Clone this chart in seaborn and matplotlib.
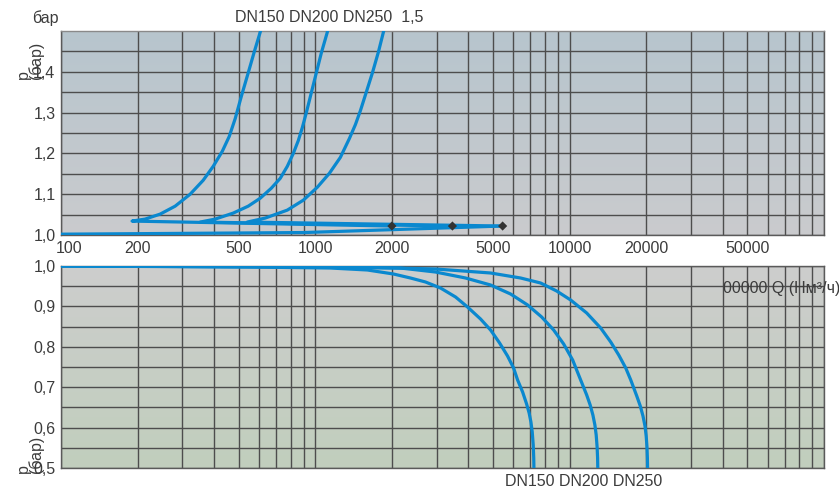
import numpy as np
import pandas as pd
import matplotlib
matplotlib.use("Agg")
import matplotlib.pyplot as plt
import matplotlib.transforms as mtrans
from matplotlib.colors import to_rgb
from matplotlib.ticker import NullFormatter
import seaborn as sns

# ---------------- data ----------------
x_tick_values = [100, 200, 500, 1000, 2000, 5000, 10000, 20000, 50000]
x_tick_labels = ["100", "200", "500", "1000", "2000", "5000", "10000", "20000", "50000"]
top_y_ticks = [1.0, 1.1, 1.2, 1.3, 1.4]
top_y_labels = ["1,0", "1,1", "1,2", "1,3", "1,4"]
bot_y_ticks = [0.5, 0.6, 0.7, 0.8, 0.9, 1.0]
bot_y_labels = ["0,5", "0,6", "0,7", "0,8", "0,9", "1,0"]

# upper panel (overpressure); first point = diamond end of the flat branch
top_dn150_q = [2000, 190.3, 214.1, 245.4, 281.1, 322.0, 362.3, 396.7, 430.5, 458.6,
               484.2, 511.3, 544.7, 575.2, 607.4, 624.2]
top_dn150_p = [1.022, 1.0341, 1.039, 1.0512, 1.0707, 1.1, 1.1341, 1.1683, 1.2049, 1.2415,
               1.2854, 1.339, 1.3976, 1.4488, 1.4976, 1.5244]
top_dn200_q = [3460, 352.5, 404.0, 475.5, 544.7, 607.4, 671.0, 728.0, 775.9, 819.3,
               857.4, 889.0, 921.8, 964.4, 1009.1, 1055.9, 1115.1, 1135.6]
top_dn200_p = [1.022, 1.0317, 1.039, 1.0537, 1.0707, 1.0902, 1.1146, 1.139, 1.1683, 1.2,
               1.2317, 1.2634, 1.3, 1.3488, 1.3976, 1.4463, 1.4976, 1.5195]
top_dn250_q = [5450, 539.8, 635.5, 775.9, 897.2, 1018.3, 1135.6, 1254.2, 1361.5, 1437.5,
               1504.2, 1588.2, 1676.9, 1770.4, 1852.7, 1903.7]
top_dn250_p = [1.022, 1.0317, 1.0415, 1.061, 1.0854, 1.1171, 1.1512, 1.1902, 1.2366, 1.2707,
               1.3049, 1.3512, 1.3976, 1.4488, 1.4976, 1.5244]
top_base_q = [100, 900, 5450]
top_base_p = [1.002, 1.006, 1.022]
diamond_q = [2000, 3460, 5450]
diamond_p = [1.022, 1.022, 1.022]

# lower panel (vacuum)
bot_dn150_q = [100, 554.8, 1145.6, 1602.5, 2028.2, 2365.9, 2710.8, 3106.1, 3558.6, 3966.3,
               4462.7, 4886.4, 5302.2, 5698.5, 6019.0, 6241.5, 6531.8, 6772.3, 6928.3,
               7041.2, 7125.9, 7190.2, 7223.4, 7235.0]
bot_dn150_p = [1.0, 0.9975, 0.995, 0.9901, 0.9802, 0.9703, 0.9604, 0.9455, 0.9233, 0.8985,
               0.8688, 0.8416, 0.8094, 0.7772, 0.7475, 0.7178, 0.6881, 0.6584, 0.6361,
               0.6139, 0.5891, 0.5569, 0.5248, 0.5]
bot_dn200_q = [100, 873.1, 2161.3, 2968.1, 3895.3, 4886.4, 5856.1, 6833.6, 7759.0, 8649.9,
               9470.4, 10275, 11047, 11666, 12040, 12340, 12566, 12714, 12820, 12877, 12900]
bot_dn200_p = [1.0, 0.9975, 0.995, 0.9851, 0.9703, 0.953, 0.9307, 0.9035, 0.8738, 0.8416,
               0.8069, 0.7673, 0.7178, 0.6807, 0.6559, 0.6312, 0.6064, 0.5817, 0.552,
               0.5248, 0.5]
bot_dn250_q = [100, 1373.3, 2968.1, 4886.4, 6414.4, 7688.3, 8888.4, 10091, 11666, 13243,
               14502, 15591, 16616, 17387, 18357, 18951, 19420, 19777, 19992, 20136,
               20210, 20247]
bot_dn250_p = [1.0, 0.9975, 0.9926, 0.9827, 0.9703, 0.9579, 0.9381, 0.9158, 0.8837, 0.8465,
               0.8119, 0.7797, 0.7475, 0.7178, 0.6782, 0.6535, 0.6287, 0.604, 0.5792,
               0.552, 0.5248, 0.5]

# ---------------- style ----------------
sns.set_style("white")
plt.rcParams["font.family"] = ["Liberation Sans", "DejaVu Sans"]
TXT = "#3c3c3c"
FS = 11.5
BLUE = "#0a88cf"
GRID = "#4d4d4d"
LW = 2.3

W, H = 839, 488
fig = plt.figure(figsize=(W / 100, H / 100), dpi=100)
fig.patch.set_facecolor("white")

L, R = 61, 824
top_box = [L / W, 1 - 235 / H, (R - L) / W, (235 - 31) / H]
bot_box = [L / W, 1 - 468 / H, (R - L) / W, (468 - 266) / H]


def gradient_axes(box, c_top, c_bot):
    bg = fig.add_axes(box, zorder=0)
    t = np.linspace(0, 1, 256)[:, None]
    a, b = np.array(to_rgb(c_top)), np.array(to_rgb(c_bot))
    img = a[None, None, :] * (1 - t[..., None]) + b[None, None, :] * t[..., None]
    img = np.repeat(img, 2, axis=1)
    bg.imshow(img, aspect="auto", extent=[0, 1, 0, 1], interpolation="bilinear")
    bg.set_axis_off()
    return bg


gradient_axes(top_box, "#b7c5ce", "#cacbcd")
gradient_axes(bot_box, "#cdcdcd", "#c1cfbd")

ax1 = fig.add_axes(top_box, zorder=1)
ax2 = fig.add_axes(bot_box, zorder=1)

minor_q = [m * 10 ** e for e in (2, 3, 4) for m in range(1, 10)] + [100000]

for ax in (ax1, ax2):
    ax.set_facecolor("none")
    ax.set_xscale("log")
    ax.set_xlim(100, 100000)
    ax.set_xticks(minor_q, minor=True)
    ax.xaxis.set_minor_formatter(NullFormatter())
    ax.grid(which="both", axis="both", color=GRID, lw=1.0)
    ax.set_axisbelow(True)
    ax.tick_params(which="both", length=0)
    for s in ax.spines.values():
        s.set_color("#5a5a5a")
        s.set_linewidth(1.0)

line_kw = dict(sort=False, estimator=None, color=BLUE, lw=LW, zorder=3,
               solid_joinstyle="round", solid_capstyle="butt")

# top axes
ax1.set_ylim(1.0, 1.5)
ax1.set_yticks(top_y_ticks, top_y_labels)
ax1.set_yticks(np.arange(1.05, 1.5, 0.1), minor=True)
ax1.yaxis.set_minor_formatter(NullFormatter())
ax1.set_xticks(x_tick_values, x_tick_labels)
ax1.tick_params(axis="x", which="major", pad=4, labelsize=FS, labelcolor=TXT)
ax1.tick_params(axis="y", pad=4, labelsize=FS, labelcolor=TXT)
ax1.spines["top"].set_color("#8a8a8a")
lab0 = ax1.get_xticklabels()[0]
lab0.set_transform(lab0.get_transform() + mtrans.ScaledTranslation(8 / 100, 0, fig.dpi_scale_trans))

for q, p in [(top_base_q, top_base_p), (top_dn150_q, top_dn150_p),
             (top_dn200_q, top_dn200_p), (top_dn250_q, top_dn250_p)]:
    df = pd.DataFrame({"Q": q, "p": p})
    sns.lineplot(data=df, x="Q", y="p", ax=ax1, **line_kw)
dfd = pd.DataFrame({"Q": diamond_q, "p": diamond_p})
sns.scatterplot(data=dfd, x="Q", y="p", marker="D", s=22, color="#333333",
                edgecolor="none", ax=ax1, zorder=4)
ax1.set_xlim(100, 100000)
ax1.set_ylim(1.0, 1.5)
ax1.set_xlabel("")
ax1.set_ylabel("")

# bottom axes
ax2.set_ylim(0.5, 1.0)
ax2.set_yticks(bot_y_ticks, bot_y_labels)
ax2.set_yticks(np.arange(0.55, 1.0, 0.1), minor=True)
ax2.yaxis.set_minor_formatter(NullFormatter())
ax2.set_xticks(x_tick_values, [""] * len(x_tick_values))
ax2.tick_params(axis="y", pad=4, labelsize=FS, labelcolor=TXT)
for q, p in [(bot_dn150_q, bot_dn150_p), (bot_dn200_q, bot_dn200_p), (bot_dn250_q, bot_dn250_p)]:
    df = pd.DataFrame({"Q": q, "p": p})
    sns.lineplot(data=df, x="Q", y="p", ax=ax2, **line_kw)
ax2.set_xlim(100, 100000)
ax2.set_ylim(0.5, 1.0)
ax2.set_xlabel("")
ax2.set_ylabel("")

# ---------------- texts ----------------
def fx(px):
    return px / W


def fy(py):
    return 1 - py / H


fig.text(fx(32), fy(18), "бар", fontsize=FS, color=TXT, ha="left", va="center")
fig.text(fx(235), fy(18), "DN150 DN200 DN250  1,5", fontsize=FS, color=TXT, ha="left", va="center")
fig.text(fx(505), fy(481), "DN150 DN200 DN250", fontsize=FS, color=TXT, ha="left", va="center")
fig.text(fx(723), fy(288), "00000 Q (Нм³/ч)", fontsize=FS, color=TXT, ha="left", va="center", zorder=5)
fig.text(fx(30), fy(79), "p\n(бар)", fontsize=FS, color=TXT, rotation=90, ha="center", va="bottom",
         multialignment="left", linespacing=0.85, zorder=5)
fig.text(fx(30), fy(473), "p\n(бар)", fontsize=FS, color=TXT, rotation=90, ha="center", va="bottom",
         multialignment="left", linespacing=0.85, zorder=5)

fig.savefig("out.png", dpi=100)
